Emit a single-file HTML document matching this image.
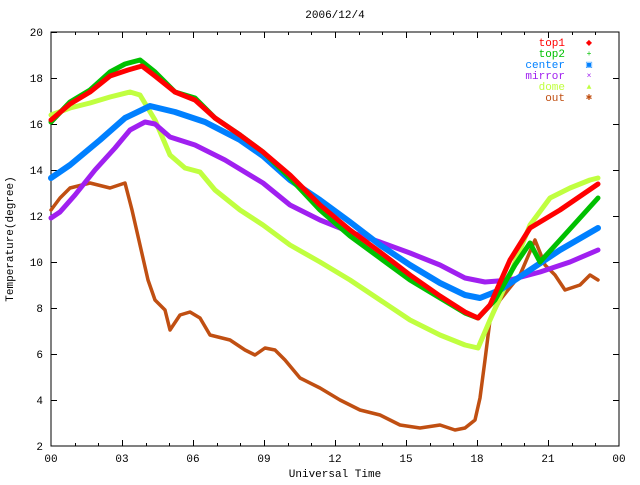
<!DOCTYPE html>
<html><head><style>
body{margin:0;background:#fff;}
svg{font-family:"Liberation Mono",monospace;font-size:11px;}
</style></head><body>
<svg width="640" height="480" xmlns="http://www.w3.org/2000/svg">
<rect width="640" height="480" fill="#fff"/>
<text x="335" y="18" text-anchor="middle">2006/12/4</text>
<g stroke="#000" stroke-width="1" fill="none">
<rect x="51" y="32" width="568" height="414"/>
<path d="M51 32.5h6M51 78.5h6M51 124.5h6M51 170.5h6M51 216.5h6M51 262.5h6M51 308.5h6M51 354.5h6M51 400.5h6
M619 78.5h-6M619 124.5h-6M619 170.5h-6M619 216.5h-6M619 262.5h-6M619 308.5h-6M619 354.5h-6M619 400.5h-6"/>
<path d="M122.5 446v-6M193.5 446v-6M264.5 446v-6M335.5 446v-6M406.5 446v-6M477.5 446v-6M548.5 446v-6
M122.5 32v6M193.5 32v6M264.5 32v6M335.5 32v6M406.5 32v6M477.5 32v6M548.5 32v6
M75.5 446v-3M98.5 446v-3M146.5 446v-3M169.5 446v-3M217.5 446v-3M240.5 446v-3M288.5 446v-3M311.5 446v-3M359.5 446v-3M382.5 446v-3M430.5 446v-3M453.5 446v-3M501.5 446v-3M524.5 446v-3M572.5 446v-3M595.5 446v-3
M75.5 32v3M98.5 32v3M146.5 32v3M169.5 32v3M217.5 32v3M240.5 32v3M288.5 32v3M311.5 32v3M359.5 32v3M382.5 32v3M430.5 32v3M453.5 32v3M501.5 32v3M524.5 32v3M572.5 32v3M595.5 32v3"/>
</g>
<g text-anchor="end">
<text x="43" y="36">20</text><text x="43" y="82">18</text><text x="43" y="128">16</text><text x="43" y="174">14</text><text x="43" y="220">12</text><text x="43" y="266">10</text><text x="43" y="312">8</text><text x="43" y="358">6</text><text x="43" y="404">4</text><text x="43" y="450">2</text>
</g>
<g text-anchor="middle">
<text x="51" y="462">00</text><text x="122" y="462">03</text><text x="193" y="462">06</text><text x="264" y="462">09</text><text x="335" y="462">12</text><text x="406" y="462">15</text><text x="477" y="462">18</text><text x="548" y="462">21</text><text x="619" y="462">00</text>
<text x="335" y="477">Universal Time</text>
</g>
<text transform="translate(13,239) rotate(-90)" text-anchor="middle">Temperature(degree)</text>
<g fill="none" stroke-linejoin="round" stroke-linecap="round">
<polyline stroke="#c04f12" stroke-width="3.5" points="51,210 60,198 70,188 90,183 110,188 125,183 132,210 140,245 148,280 155,300 165,310 170,330 180,315 190,312 200,318 210,335 230,340 245,350 255,355 265,348 275,350 285,360 300,378 320,388 340,400 360,410 380,415 400,425 420,428 440,425 455,430 465,428 475,420 480,398 485,360 490,320 500,300 520,275 535,240 545,265 555,275 565,290 580,285 590,275 598,280"/>
<polyline stroke="#c0ff40" stroke-width="5" points="51,115 70,108 90,103 110,97 130,92 140,95 155,120 170,155 185,168 200,172 215,190 240,210 263,225 290,245 320,262 350,280 380,300 410,320 440,335 465,345 478,348 490,320 510,275 530,225 550,198 570,188 590,180 598,178"/>
<polyline stroke="#a020f0" stroke-width="5" points="51,218 60,212 75,195 95,170 115,148 130,130 145,122 155,124 170,137 195,145 225,160 263,183 290,205 320,220 350,232 380,242 410,253 440,265 465,278 485,282 510,280 540,272 570,262 598,250"/>
<polyline stroke="#0080ff" stroke-width="6" points="51,178 70,165 100,140 125,118 150,106 175,112 205,122 240,140 263,156 290,180 320,200 350,222 380,245 410,265 440,283 465,295 480,298 500,290 530,270 560,250 598,228"/>
<polyline stroke="#00c000" stroke-width="5" points="51,122 70,102 90,90 110,72 125,64 140,60 155,72 175,92 195,98 215,118 240,135 263,152 290,178 320,210 350,236 380,258 410,280 440,298 465,313 478,318 495,300 515,265 530,243 540,262 560,240 598,198"/>
<polyline stroke="#ff0000" stroke-width="5" points="51,120 70,104 90,92 110,76 128,70 142,66 155,76 175,92 195,100 215,118 240,135 263,152 290,175 320,205 350,230 380,252 410,275 440,296 465,312 478,318 490,305 510,260 530,228 560,210 598,184"/>
</g>
<g text-anchor="end">
<text x="565" y="46" fill="#ff0000">top1</text>
<text x="565" y="57" fill="#00c000">top2</text>
<text x="565" y="68" fill="#0080ff">center</text>
<text x="565" y="79" fill="#a020f0">mirror</text>
<text x="565" y="90" fill="#c0ff40">dome</text>
<text x="565" y="101" fill="#c04f12">out</text>
</g>
<g text-anchor="middle" font-size="8">
<text x="589" y="45" fill="#ff0000">◆</text>
<text x="589" y="56" fill="#00c000">+</text>
<text x="589" y="67" fill="#0080ff">▣</text>
<text x="589" y="78" fill="#a020f0">×</text>
<text x="589" y="89" fill="#c0ff40">▲</text>
<text x="589" y="100" fill="#c04f12">✱</text>
</g>
</svg>
</body></html>
